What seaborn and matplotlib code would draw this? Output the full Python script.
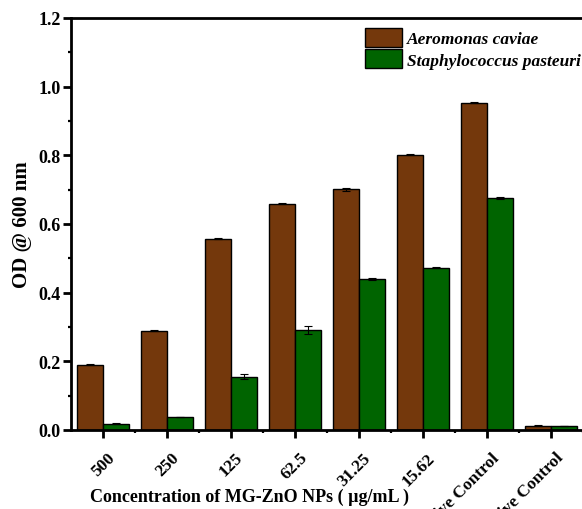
# Bar chart: OD @ 600 nm vs MG-ZnO NP concentration

import pandas as pd
import matplotlib
matplotlib.use("Agg")
import matplotlib.pyplot as plt
import matplotlib.transforms as mtransforms
import seaborn as sns
from matplotlib.ticker import MultipleLocator
from matplotlib.font_manager import FontProperties

# Data
concentrations = ['500', '250', '125', '62.5', '31.25', '15.62',
                  'Positive Control', 'Negative Control']
species = ['Aeromonas caviae', 'Staphylococcus pasteuri']
aeromonas_od = [0.190, 0.289, 0.557, 0.659, 0.701, 0.802, 0.953, 0.013]
aeromonas_err = [0.002, 0.001, 0.002, 0.001, 0.004, 0.001, 0.002, 0.001]
staph_od = [0.018, 0.038, 0.155, 0.292, 0.440, 0.473, 0.676, 0.012]
staph_err = [0.001, 0.001, 0.007, 0.012, 0.002, 0.001, 0.002, 0.001]

colors = ['#74380C', '#006400']

df = pd.DataFrame({
    'conc': concentrations * 2,
    'species': [species[0]] * len(concentrations) + [species[1]] * len(concentrations),
    'od': aeromonas_od + staph_od,
    'err': aeromonas_err + staph_err,
})

plt.rcParams['font.family'] = ['Liberation Serif', 'DejaVu Serif']
plt.rcParams['font.weight'] = 'bold'
plt.rcParams['axes.labelweight'] = 'bold'

fig = plt.figure(figsize=(5.82, 5.10), dpi=100)
ax = fig.add_axes([71 / 582, 1 - 431 / 510, 512 / 582, 412 / 510])

sns.barplot(data=df, x='conc', y='od', hue='species', order=concentrations,
            hue_order=species, palette=colors, saturation=1, edgecolor='black',
            linewidth=1, width=0.8, errorbar=None, ax=ax)

# Error bars on top of each bar
for bars, sp in zip(ax.containers, species):
    sub = df[df['species'] == sp]
    xs = [b.get_x() + b.get_width() / 2 for b in bars]
    ax.errorbar(xs, sub['od'].values, yerr=sub['err'].values, fmt='none',
                ecolor='black', elinewidth=0.8, capsize=3, capthick=0.8)

ax.set_xlim(-0.5, 7.5)
ax.set_ylim(0, 1.2)
ax.yaxis.set_major_locator(MultipleLocator(0.2))
ax.yaxis.set_minor_locator(MultipleLocator(0.1))
ax.set_xticks(range(len(concentrations)))
ax.set_xticks([i + 0.5 for i in range(len(concentrations))], minor=True)

for side in ['left', 'bottom', 'top', 'right']:
    ax.spines[side].set_linewidth(2)
ax.tick_params(which='major', direction='out', length=5.5, width=2, labelsize=13, pad=2)
ax.tick_params(axis='x', which='major', pad=7, labelsize=12.5)
ax.tick_params(which='minor', direction='out', length=2.5, width=1.6)
ax.tick_params(top=False, right=False, which='both')

ax.set_xticklabels(concentrations, rotation=45, ha='right', va='top',
                   rotation_mode='anchor')
# nudge rotated labels a bit right/down like the original
offset = mtransforms.ScaledTranslation(4 / 100, -2 / 100, fig.dpi_scale_trans)
for lbl in ax.get_xticklabels():
    lbl.set_transform(lbl.get_transform() + offset)

ax.set_ylabel('OD @ 600 nm', fontsize=15, fontweight='bold')
ax.yaxis.set_label_coords(-0.076, 0.5)
ax.set_xlabel('Concentration of MG-ZnO NPs ( µg/mL )', fontsize=13, fontweight='bold')
ax.xaxis.set_label_coords(0.348, -0.141)
ax.xaxis.label.set_va('top')

ax.legend(loc='upper right', frameon=False, bbox_to_anchor=(0.996, 0.976),
          prop=FontProperties(family='Liberation Serif', weight='bold', style='italic', size=12.5),
          handlelength=2.1, handleheight=1.3, handletextpad=0.3, labelspacing=0.12,
          borderaxespad=0, borderpad=0)

plt.savefig('out.png', dpi=100)
plt.close()
